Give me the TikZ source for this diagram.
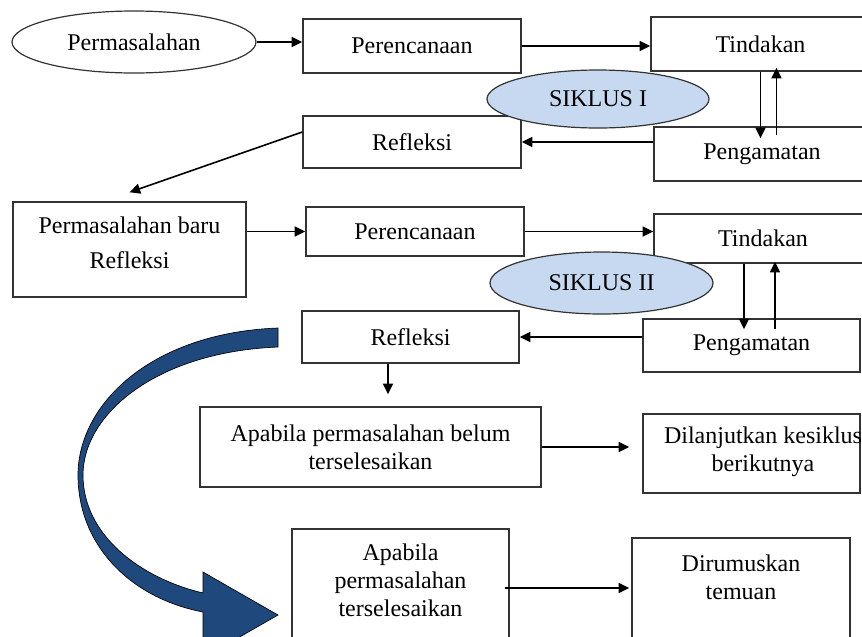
\documentclass[tikz,border=0pt]{standalone}
\usepackage{fontspec}
\setmainfont{Liberation Serif}
\usetikzlibrary{arrows.meta,shapes.geometric,calc}

\definecolor{siklusblue}{RGB}{198,217,240}
\definecolor{panahblue}{RGB}{31,73,125}

\tikzset{every picture/.style={line width=0.75pt}}
\tikzset{
  kotak/.style={draw=black!80, line width=1.1pt, rectangle, inner sep=0pt, align=center, font=\fontsize{18}{21}\selectfont},
  lonjong/.style={draw=black!80, line width=0.9pt, ellipse, inner sep=0pt, align=center, font=\fontsize{18}{21}\selectfont},
  siklus/.style={lonjong, fill=siklusblue},
  teks/.style={inner sep=0pt, align=center, font=\fontsize{18}{21}\selectfont},
  panah/.style={line width=1.2pt, -{Triangle[length=8pt,width=7.5pt]}}
}

\begin{document}
\begin{tikzpicture}[x=0.75pt,y=0.75pt,yscale=-1,xscale=1]
\useasboundingbox (0,0) rectangle (862,636);

%Shape: Curved Arrow
\draw [fill=panahblue, draw=black, line width=0.5pt] (278,328) .. controls (150,333) and (78,405) .. (78,475) .. controls (78,545) and (130,598) .. (203,612) -- (203,658) -- (278,615) -- (203,572) -- (203,593) .. controls (140,578) and (83,535) .. (83,475) .. controls (83,415) and (155,352) .. (278,347) -- cycle ;

%Siklus I
\node [lonjong, minimum width=183pt, minimum height=46.5pt] (masalah) at (134,42) {Permasalahan};
\node [kotak, minimum width=163.5pt, minimum height=40.5pt] (rencana1) at (412,46) {Perencanaan};
\node [kotak, minimum width=164.25pt, minimum height=40.5pt] (tindakan1) at (760.5,44) {Tindakan};
\node [kotak, minimum width=163.5pt, minimum height=39pt] (refleksi1) at (412,142) {Refleksi};
\node [kotak, minimum width=162pt, minimum height=40.5pt] (amat1) at (762,154) {Pengamatan};

%Siklus II
\node [kotak, minimum width=174.75pt, minimum height=71.25pt] (baru) at (129.5,249.5) {};
\node [teks] (baruTxt) at (129.5,242.5) {Permasalahan baru\\[5pt]Refleksi};
\node [kotak, minimum width=163.5pt, minimum height=36.75pt] (rencana2) at (415,231.5) {Perencanaan};
\node [kotak, minimum width=163.5pt, minimum height=36.75pt] (tindakan2) at (763,238.5) {Tindakan};
\node [kotak, minimum width=162.75pt, minimum height=39pt] (refleksi2) at (410.5,337) {Refleksi};
\node [kotak, minimum width=162.75pt, minimum height=39.75pt] (amat2) at (751.5,345.5) {Pengamatan};

%Hasil
\node [kotak, minimum width=255.75pt, minimum height=60pt] (belum) at (370.5,447) {Apabila permasalahan belum\\terselesaikan};
\node [kotak, minimum width=162.75pt, minimum height=59.25pt] (lanjut) at (751.5,453.5) {};
\node [teks] (lanjutTxt) at (763,452) {Dilanjutkan kesiklus\\berikutnya};
\node [kotak, minimum width=162.75pt, minimum height=113.25pt] (selesai) at (400.5,604.5) {};
\node [teks] (selesaiTxt) at (400.5,580) {Apabila\\permasalahan\\terselesaikan};
\node [kotak, minimum width=163.5pt, minimum height=106.5pt] (rumus) at (741,609) {};
\node [teks] (rumusTxt) at (741,577) {Dirumuskan\\temuan};

%Straight Lines
\draw [panah] (masalah.east) -- (masalah.east -| rencana1.west) ;
\draw [panah] (rencana1.east) -- (rencana1.east -| tindakan1.west) ;
\draw [panah] (tindakan1.south) -- ($(tindakan1.south |- amat1.north)+(0,12)$) ;
\draw [panah] ($(tindakan1.south |- amat1.north)+(16,9)$) -- ($(tindakan1.south)+(16,-4)$) ;
\draw [panah] (refleksi1.east -| amat1.west) -- (refleksi1.east) ;
\draw [panah] ($(refleksi1.west)+(0,-10)$) -- ($(baru.north)+(0,-9)$) ;
\draw [panah] (baru.east |- rencana2.west) -- (rencana2.west) ;
\draw [panah] (rencana2.east) -- (rencana2.east -| tindakan2.west) ;
\draw [panah] ($(tindakan2.south)+(-19,0)$) -- ($(tindakan2.south |- amat2.north)+(-19,11)$) ;
\draw [panah] ($(tindakan2.south |- amat2.north)+(12,11)$) -- ($(tindakan2.south)+(12,-2)$) ;
\draw [panah] (refleksi2.east -| amat2.west) -- (refleksi2.east) ;
\draw [panah] ($(refleksi2.south)+(-22.5,0)$) -- ($(refleksi2.south |- belum.north)+(-22.5,-12)$) ;
\draw [panah] (belum.east) -- ($(belum.east -| lanjut.west)+(-13,0)$) ;
\draw [panah] ($(selesai.east)+(-5,-16.5)$) -- ($(selesai.east -| rumus.west)+(-2,-16.5)$) ;

%Shape: Ellipse
\node [siklus, minimum width=166.5pt, minimum height=43.5pt] (siklus1) at (598,99) {SIKLUS I};
\node [siklus, minimum width=167.25pt, minimum height=46.5pt] (siklus2) at (601.5,283) {SIKLUS II};

\end{tikzpicture}
\end{document}
